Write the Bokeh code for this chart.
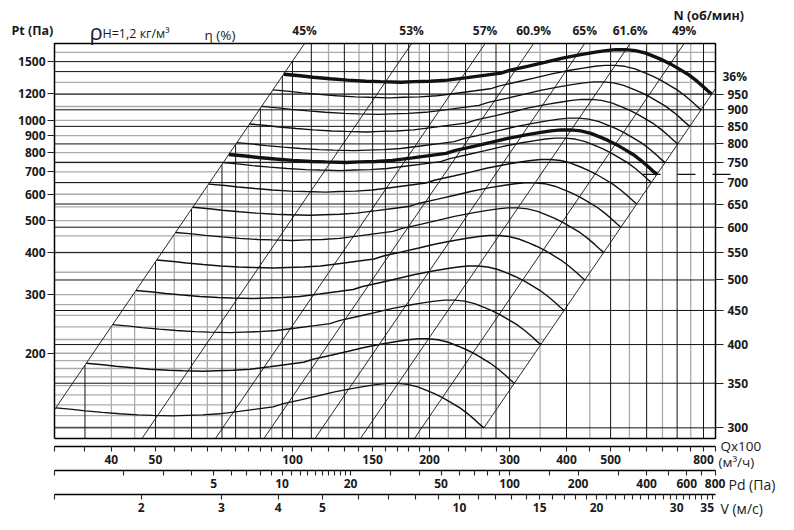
import math
from bokeh.plotting import figure
from bokeh.models import LogAxis, FixedTicker, Range1d, LogScale, Label
from bokeh.embed import file_html
from bokeh.resources import INLINE

# ---------------- values ----------------
Q_RANGE = (30, 850)        # Q x100, m3/h (log)
PT_RANGE = (111, 1700)     # Pt, Pa (log)
PD_RANGE = (1.0, 803)      # Pd, Pa (log)
V_RANGE = (1.29, 36.5)     # V, m/s (log)

# characteristic at 950 rpm; the other speeds follow the fan laws (Q ~ N, Pt ~ N^2)
BASE_RPM = 950
BASE_Q = [95.6, 104, 111, 121, 132, 145, 156, 173, 185, 201, 219, 242, 266, 287,
          301, 330, 360, 392, 430, 463, 488, 513, 539, 567, 597, 628, 651, 678,
          705, 739, 769, 797, 817, 834]
BASE_PT = [1375, 1361, 1347, 1333, 1320, 1310, 1306, 1301, 1306, 1310, 1320, 1343,
           1366, 1385, 1414, 1454, 1494, 1536, 1574, 1601, 1618, 1629, 1629, 1618,
           1590, 1547, 1515, 1474, 1429, 1375, 1320, 1266, 1227, 1198]

RPM = [950, 900, 850, 800, 750, 720, 700, 650, 600, 550, 500, 450, 400, 350, 300]
RPM_BOLD = [950, 720]
RPM_UNLABELED = [720]

EFF_LABELS = ["45%", "53%", "57%", "60.9%", "65%", "61.6%", "49%"]
EFF_Q_TOP = [106.3, 182.7, 265, 338.7, 438.6, 552, 725.4]   # Q where each line meets the top
EFF_END_LABEL = "36%"

PT_TICKS = [200, 300, 400, 500, 600, 700, 800, 900, 1000, 1200, 1500]
Q_LABELED = [40, 50, 100, 150, 200, 300, 400, 500, 800]
Q_MINOR = [30, 35, 45, 55, 60, 65, 70, 75, 80, 85, 90, 95, 110, 120, 130, 140, 160,
           170, 180, 190, 220, 240, 260, 280, 350, 450, 550, 600, 650, 700, 750, 850]
PD_LABELED = [5, 10, 20, 50, 100, 200, 400, 600, 800]
PD_MINOR = [1.0, 2, 3, 4, 6, 7, 8, 9, 11, 12, 13, 14, 15, 16, 17, 18, 19, 30, 40,
            60, 70, 80, 90, 150, 300, 500, 700]
V_LABELED = [2, 3, 4, 5, 10, 15, 20, 30, 35]
V_MINOR = [1.29, 6, 7, 8, 9, 11, 12, 13, 14, 16, 17, 18, 19, 21, 22, 23, 24, 25,
           26, 27, 28, 29, 31, 32, 33, 34, 36]

GRID_Q_BLACK = [35, 50, 60, 70, 75, 85, 95, 100, 110, 130, 150, 160, 180, 200, 240,
                280, 300, 400, 500, 600, 700, 800]
GRID_Q_GRAY = [40, 45, 55, 65, 80, 90, 120, 140, 170, 190, 220, 260, 350, 450, 550,
               650, 750]
GRID_PT_GRAY = [120, 130, 140, 150, 160, 170, 180, 190, 200, 220, 240, 260, 280, 300,
                350, 400, 450, 500, 550, 600, 650, 700, 750, 800, 900, 1000, 1100,
                1200, 1300, 1600]
GRID_PT_BLACK = [1400, 1500]

# ---------------- layout (pixels) ----------------
FONT = "Open Sans"
W, H = 790, 526
PX_L, PX_R, PX_T, PX_B = 54, 715, 43, 438     # chart box on the canvas
Y_QAXIS, Y_PDAXIS, Y_VAXIS = 446, 470, 494      # lines of the three lower scales


def log_px(lo, hi, px, p0, p1):
    return lo * (hi / lo) ** ((px - p0) / (p1 - p0))


def qx(px):
    return log_px(Q_RANGE[0], Q_RANGE[1], px, PX_L, PX_R)


def py(y):
    return log_px(PT_RANGE[1], PT_RANGE[0], y, PX_T, PX_B)


p = figure(width=W, height=H, x_axis_type="log", y_axis_type="log",
           x_range=Range1d(qx(0), qx(W)), y_range=Range1d(py(H), py(0)),
           x_axis_location=None, y_axis_location=None,
           output_backend="svg", toolbar_location=None,
           min_border=0, min_border_left=0, min_border_right=0,
           min_border_top=0, min_border_bottom=0)
p.grid.visible = False
p.outline_line_color = None
p.background_fill_color = "white"
p.border_fill_color = "white"

p.extra_x_ranges = {
    "pd": Range1d(log_px(PD_RANGE[0], PD_RANGE[1], 0, PX_L, PX_R),
                  log_px(PD_RANGE[0], PD_RANGE[1], W, PX_L, PX_R)),
    "v": Range1d(log_px(V_RANGE[0], V_RANGE[1], 0, PX_L, PX_R),
                 log_px(V_RANGE[0], V_RANGE[1], W, PX_L, PX_R)),
}
p.extra_x_scales = {"pd": LogScale(), "v": LogScale()}

k45 = BASE_PT[0] / BASE_Q[0] ** 2
k36 = BASE_PT[-1] / BASE_Q[-1] ** 2

# horizontal grid (gray, ends at the 36% line)
gx0, gy0, gx1, gy1 = [], [], [], []
for pt in GRID_PT_GRAY:
    gx0.append(Q_RANGE[0]); gy0.append(pt)
    gx1.append(min(Q_RANGE[1], math.sqrt(pt / k36))); gy1.append(pt)
p.segment(gx0, gy0, gx1, gy1, line_color="#ababab", line_width=1.3)


def vgrid(qs, color, width):
    x0, y0, x1, y1 = [], [], [], []
    for q in qs:
        x0.append(q); y0.append(PT_RANGE[0])
        x1.append(q); y1.append(min(PT_RANGE[1], k45 * q * q))
    p.segment(x0, y0, x1, y1, line_color=color, line_width=width)


vgrid(GRID_Q_GRAY, "#ababab", 1.3)
vgrid(GRID_Q_BLACK, "#111111", 1.0)

# black horizontal lines: rpm levels + some grid
end_pt = {n: BASE_PT[-1] * (n / BASE_RPM) ** 2 for n in RPM}
hb = [end_pt[n] for n in RPM if n not in RPM_UNLABELED] + GRID_PT_BLACK
p.segment([Q_RANGE[0]] * len(hb), hb, [Q_RANGE[1]] * len(hb), hb,
          line_color="#111111", line_width=1.0)

# efficiency lines (Pt ~ Q^2)
ex, ey = [], []
for qt in EFF_Q_TOP:
    qb = qt * math.sqrt(PT_RANGE[0] / PT_RANGE[1])
    if qb < Q_RANGE[0]:
        start = (Q_RANGE[0], PT_RANGE[1] * (Q_RANGE[0] / qt) ** 2)
    else:
        start = (qb, PT_RANGE[0])
    ex.append([start[0], qt]); ey.append([start[1], PT_RANGE[1]])
s300 = min(RPM) / BASE_RPM
ex.append([BASE_Q[-1] * s300, Q_RANGE[1]])
ey.append([BASE_PT[-1] * s300 ** 2, k36 * Q_RANGE[1] ** 2])
p.multi_line(ex, ey, line_color="#111111", line_width=0.9)

# fan curves
thin_x, thin_y, bold_x, bold_y = [], [], [], []
for n in RPM:
    s = n / BASE_RPM
    xs = [q * s for q in BASE_Q]
    ys = [v * s * s for v in BASE_PT]
    if n in RPM_BOLD:
        bold_x.append(xs); bold_y.append(ys)
    else:
        thin_x.append(xs); thin_y.append(ys)
p.multi_line(thin_x, thin_y, line_color="#111111", line_width=1.4)
p.multi_line(bold_x, bold_y, line_color="#111111", line_width=3.4)

# dashed leader of the unlabeled bold curve
p.line([qx(642), qx(733)], [end_pt[720]] * 2, line_color="#111111", line_width=1.2,
       line_dash="18 17")

# chart box
p.line([Q_RANGE[0], Q_RANGE[1], Q_RANGE[1], Q_RANGE[0], Q_RANGE[0]],
       [PT_RANGE[0], PT_RANGE[0], PT_RANGE[1], PT_RANGE[1], PT_RANGE[0]],
       line_color="black", line_width=1.5)

# ---------------- axes ----------------
def style(ax, tick_out, standoff, size="12px"):
    ax.major_tick_out = tick_out
    ax.major_tick_in = 0
    ax.minor_tick_out = 0
    ax.minor_tick_in = 0
    ax.minor_tick_line_color = None
    ax.major_label_standoff = standoff
    ax.major_label_text_font = FONT
    ax.major_label_text_font_size = size
    ax.major_label_text_font_style = "bold"
    ax.major_label_text_color = "#1a1a1a"
    ax.axis_line_color = "black"
    ax.axis_line_width = 1.3
    ax.major_tick_line_color = "#222222"
    ax.major_tick_line_width = 1.1


def labeled_axis(labeled, minor, **kw):
    ticks = sorted(set(labeled) | set(minor))
    over = {t: (str(t) if t in labeled else "") for t in ticks}
    return LogAxis(ticker=FixedTicker(ticks=ticks), major_label_overrides=over, **kw)


left = labeled_axis(PT_TICKS, [], fixed_location=Q_RANGE[0])
style(left, 7, 2)
left.axis_line_color = None
p.add_layout(left, "left")

rpm_ticks = [round(end_pt[n], 2) for n in RPM if n not in RPM_UNLABELED]
right = LogAxis(ticker=FixedTicker(ticks=rpm_ticks), fixed_location=Q_RANGE[1],
                major_label_overrides={round(end_pt[n], 2): str(n) for n in RPM
                                       if n not in RPM_UNLABELED})
style(right, 8, 4)
right.axis_line_color = None
p.add_layout(right, "right")

top = LogAxis(ticker=FixedTicker(ticks=EFF_Q_TOP), fixed_location=PT_RANGE[1],
              major_label_overrides=dict(zip(EFF_Q_TOP, EFF_LABELS)))
style(top, 0, 5)
top.axis_line_color = None
top.major_tick_line_color = None
p.add_layout(top, "above")

qax = labeled_axis(Q_LABELED, Q_MINOR, fixed_location=py(Y_QAXIS), bounds=Q_RANGE)
style(qax, 5, 3)
p.add_layout(qax, "below")

pdax = labeled_axis(PD_LABELED, PD_MINOR, x_range_name="pd",
                    fixed_location=py(Y_PDAXIS), bounds=PD_RANGE)
style(pdax, 5, 3)
p.add_layout(pdax, "below")

vax = labeled_axis(V_LABELED, V_MINOR, x_range_name="v",
                   fixed_location=py(Y_VAXIS), bounds=V_RANGE)
style(vax, 5, 3)
p.add_layout(vax, "below")

# ---------------- free texts ----------------
def text(t, x, y, size="12px", bold=False, align="left", baseline="middle"):
    p.add_layout(Label(x=qx(x), y=py(y), text=t, text_font=FONT, text_font_size=size,
                       text_font_style="bold" if bold else "normal",
                       text_align=align, text_baseline=baseline, text_color="#1a1a1a"))


text("Pt (Па)", 11, 30, "12.5px", True)
text("ρ", 89, 30, "22px", False, baseline="alphabetic")
text("Н=1,2 кг/м³", 102, 33, "12.5px", False, baseline="alphabetic")
text("η (%)", 204, 34, "13.5px", False, baseline="alphabetic")
text("N (об/мин)", 673, 15, "12.5px", True)
text(EFF_END_LABEL, 722, 76, "12px", True)
text("Qx100", 720, 445, "13.5px")
text("(м³/ч)", 718, 461, "13.5px")
text("Pd (Па)", 728, 484, "14px")
text("V (м/с)", 720, 508, "14px")

open("out.html", "w").write(file_html(p, INLINE))
